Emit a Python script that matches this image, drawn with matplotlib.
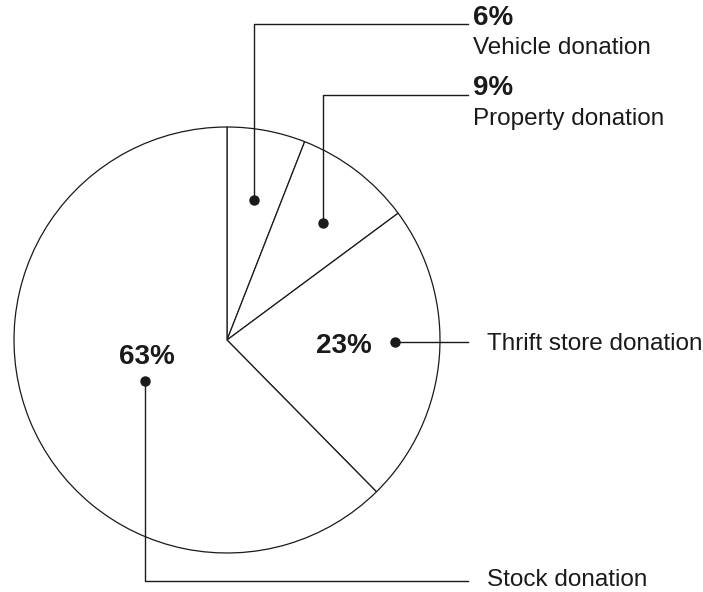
import numpy as np
import matplotlib.pyplot as plt

plt.rcParams['font.family'] = ['Liberation Sans', 'DejaVu Sans']

# data
labels = ['Vehicle donation', 'Property donation', 'Thrift store donation', 'Stock donation']
values = [6, 9, 23, 63]
pct_text = ['6%', '9%', '23%', '63%']

W, H = 703, 592
fig = plt.figure(figsize=(W / 100, H / 100), dpi=100)
ax = fig.add_axes([0, 0, 1, 1])
ax.set_xlim(0, W)
ax.set_ylim(0, H)
ax.axis('off')

cx, cy, R = 227, H - 340, 213
wedges, _ = ax.pie(values, startangle=90, counterclock=False, center=(cx, cy), radius=R,
                   colors=['white'] * 4,
                   wedgeprops=dict(edgecolor='#1a1a1a', linewidth=0.9))
ax.set_xlim(0, W)
ax.set_ylim(0, H)
ax.set_aspect('equal')

# dot positions: fraction across each wedge's angle, fraction of radius
dot_a = [0.51, 0.56, 0.454, 0.48]
dot_r = [0.67, 0.71, 0.79, 0.43]
dots = []
for w, fa, fr in zip(wedges, dot_a, dot_r):
    # clockwise wedges: go from theta2 toward theta1
    a = np.deg2rad(w.theta2 - fa * (w.theta2 - w.theta1))
    dots.append((cx + fr * R * np.cos(a), cy + fr * R * np.sin(a)))

lc = '#1a1a1a'
line_end = 468
# vehicle and property: up then right
for i, ytop in zip([0, 1], [H - 24, H - 95]):
    x0, y0 = dots[i]
    ax.plot([x0, x0, line_end], [y0, ytop, ytop], color=lc, lw=1.0)
# thrift: straight right
x0, y0 = dots[2]
ax.plot([x0, line_end], [y0, y0], color=lc, lw=1.0)
# stock: down then right
x0, y0 = dots[3]
ax.plot([x0, x0, line_end], [y0, H - 581, H - 581], color=lc, lw=1.0)

for x0, y0 in dots:
    ax.plot(x0, y0, 'o', color=lc, markersize=6.5)

# labels
ax.text(473, H - 18, pct_text[0], fontsize=20, fontweight='bold', va='center', color=lc)
ax.text(473, H - 48, labels[0], fontsize=17.5, va='center', color=lc)
ax.text(473, H - 88, pct_text[1], fontsize=20, fontweight='bold', va='center', color=lc)
ax.text(473, H - 119, labels[1], fontsize=17.5, va='center', color=lc)
ax.text(487, dots[2][1] - 2, labels[2], fontsize=17.5, va='center', color=lc)
ax.text(487, H - 580, labels[3], fontsize=17.5, va='center', color=lc)
ax.text(dots[2][0] - 51, dots[2][1] - 4, pct_text[2], fontsize=20, fontweight='bold',
        ha='center', va='center', color=lc)
ax.text(dots[3][0] + 2, dots[3][1] + 24, pct_text[3], fontsize=20, fontweight='bold',
        ha='center', va='center', color=lc)

fig.savefig('out.png', dpi=100, facecolor='white')
